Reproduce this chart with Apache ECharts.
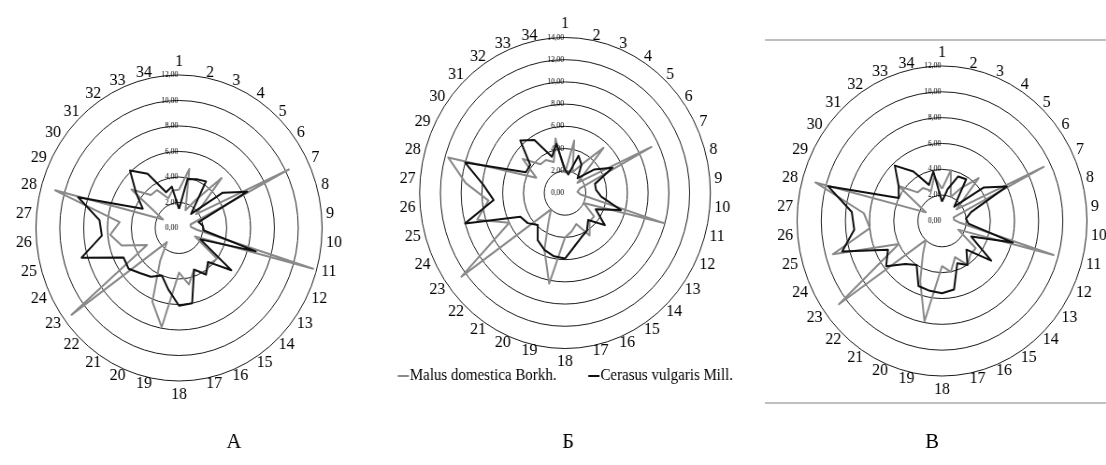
<!DOCTYPE html>
<html>
<head>
<meta charset="utf-8">
<script src="https://cdn.jsdelivr.net/npm/echarts@6/dist/echarts.min.js"></script>
<style>
  html, body { margin: 0; padding: 0; background: #fff; }
  #wrap { width: 1106px; height: 465px; overflow: hidden; }
  /* the source figure is squeezed horizontally, so the canvas is too */
  #chart { width: 1183px; height: 465px; transform: scaleX(0.935); transform-origin: 0 0; }
</style>
</head>
<body>
<div id="wrap"><div id="chart"></div></div>
<script>
var SX = 0.935;

// axis names, 1..34
var axisNames = ['1', '2', '3', '4', '5', '6', '7', '8', '9', '10', '11', '12',
  '13', '14', '15', '16', '17', '18', '19', '20', '21', '22', '23', '24',
  '25', '26', '27', '28', '29', '30', '31', '32', '33', '34'];

var seriesNames = ['Malus domestica Borkh.', 'Cerasus vulgaris Mill.'];
var panelLetters = ['А', 'Б', 'В'];
var panelMax = [12, 14, 12];

// panel A
var malusA = [3.0, 4.7, 1.5, 2.5, 5.3, 1.8, 10.3, 1.0, 1.0, 1.5, 11.7, 1.5, 4.0, 3.8, 4.2, 3.5, 4.5,
  3.5, 7.9, 6.2, 3.0, 1.5, 11.3, 3.0, 5.0, 5.8, 5.0, 10.8, 1.5, 5.0, 3.5, 3.5, 2.5, 3.0];
var cerasusA = [1.5, 3.9, 4.1, 4.3, 1.5, 4.6, 6.4, 1.7, 2.0, 2.1, 6.7, 2.0, 5.5, 3.6, 4.3, 3.5, 6.0,
  6.1, 4.9, 4.0, 4.5, 4.8, 5.3, 5.2, 8.5, 6.5, 6.7, 8.8, 3.4, 4.5, 6.1, 5.0, 3.0, 3.3];

// panel Б
var malusB = [1.8, 4.8, 2.0, 3.0, 5.5, 1.5, 9.3, 1.5, 1.2, 1.5, 9.9, 2.0, 3.5, 3.5, 4.5, 3.0, 3.5,
  4.0, 8.3, 5.5, 3.0, 2.0, 12.5, 6.0, 8.8, 7.4, 9.6, 11.7, 3.1, 5.1, 3.5, 3.5, 3.0, 5.0];
var cerasusB = [2.1, 1.7, 3.6, 3.0, 1.8, 3.5, 5.1, 3.0, 3.0, 3.5, 5.6, 3.3, 4.8, 3.3, 4.0, 4.3, 4.9,
  5.9, 5.8, 5.5, 5.0, 3.9, 4.5, 4.8, 10.0, 6.9, 7.9, 10.0, 4.2, 4.2, 6.4, 5.6, 3.5, 4.5];

// panel В
var malusV = [2.5, 4.0, 2.0, 3.0, 4.5, 1.5, 9.4, 1.0, 1.0, 1.5, 9.6, 1.5, 3.5, 3.5, 4.0, 3.0, 4.0,
  3.5, 7.9, 5.0, 3.0, 2.0, 10.7, 4.0, 9.4, 6.0, 6.5, 10.9, 1.5, 4.5, 3.0, 3.0, 2.5, 3.5];
var cerasusV = [1.5, 2.5, 3.7, 3.8, 1.5, 4.3, 6.0, 2.5, 2.0, 2.2, 6.1, 2.7, 5.1, 3.0, 4.0, 3.5, 5.4,
  5.6, 5.5, 5.4, 4.0, 4.5, 5.8, 5.0, 8.6, 7.3, 7.5, 9.8, 4.0, 4.5, 5.8, 4.5, 3.0, 3.9];

// echarts lays radar axes out anticlockwise, the figure goes clockwise
var order = [0];
for (var i = axisNames.length - 1; i > 0; i--) order.push(i);
function reorder(arr) { return order.map(function (k) { return arr[k]; }); }

var serif = 'Liberation Serif, Times New Roman, serif';

function makeRadar(cx, cy, r, max) {
  return {
    center: [cx / SX, cy],
    radius: r,
    shape: 'circle',
    startAngle: 90,
    splitNumber: max / 2,
    indicator: order.map(function (k, i) {
      var ind = { name: axisNames[k], min: 0, max: max };
      if (i === 0) ind.axisLabel = { show: true };
      return ind;
    }),
    axisName: { color: '#000', fontFamily: serif, fontSize: 17 },
    nameGap: 5,
    axisLine: { show: false },
    axisTick: { show: false },
    splitLine: { lineStyle: { color: '#1a1a1a', width: 1 } },
    splitArea: { show: false },
    axisLabel: {
      show: false, fontSize: 8, fontFamily: serif, color: '#000', margin: 1,
      formatter: function (v) { return v.toFixed(2).replace('.', ','); }
    }
  };
}

function makeSeries(idx, malus, cerasus) {
  return {
    type: 'radar',
    radarIndex: idx,
    symbol: 'none',
    silent: true,
    data: [
      { name: seriesNames[0], value: reorder(malus),
        itemStyle: { color: '#8a8a8a' }, lineStyle: { color: '#8a8a8a', width: 2 } },
      { name: seriesNames[1], value: reorder(cerasus),
        itemStyle: { color: '#111' }, lineStyle: { color: '#111', width: 2 } }
    ]
  };
}

var chart = echarts.init(document.getElementById('chart'), null, { renderer: 'canvas' });
chart.setOption({
  animation: false,
  backgroundColor: '#fff',
  legend: {
    data: seriesNames,
    left: 393 / SX,
    top: 363,
    icon: 'rect',
    itemWidth: 12,
    itemHeight: 2,
    itemGap: 34,
    textStyle: { fontFamily: serif, fontSize: 16, color: '#000', padding: [0, 0, 0, -4] }
  },
  radar: [
    makeRadar(179, 228, 153, panelMax[0]),
    makeRadar(565, 193, 155.5, panelMax[1]),
    makeRadar(942, 221, 155, panelMax[2])
  ],
  series: [
    makeSeries(0, malusA, cerasusA),
    makeSeries(1, malusB, cerasusB),
    makeSeries(2, malusV, cerasusV)
  ],
  graphic: [
    { type: 'line', shape: { x1: 765 / SX, y1: 40, x2: 1106 / SX, y2: 40 }, style: { stroke: '#aaa', lineWidth: 1.5 } },
    { type: 'line', shape: { x1: 765 / SX, y1: 403, x2: 1106 / SX, y2: 403 }, style: { stroke: '#aaa', lineWidth: 1.5 } },
    { type: 'text', x: 234 / SX, y: 442, style: { text: panelLetters[0], font: '22px ' + serif, fill: '#000', align: 'center', verticalAlign: 'middle' } },
    { type: 'text', x: 568 / SX, y: 442, style: { text: panelLetters[1], font: '22px ' + serif, fill: '#000', align: 'center', verticalAlign: 'middle' } },
    { type: 'text', x: 932 / SX, y: 442, style: { text: panelLetters[2], font: '22px ' + serif, fill: '#000', align: 'center', verticalAlign: 'middle' } }
  ]
});
</script>
</body>
</html>
